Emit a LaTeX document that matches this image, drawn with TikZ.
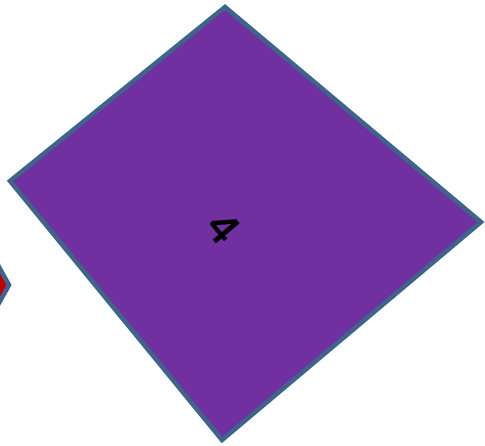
\documentclass[tikz,border=0pt]{standalone}
\usepackage{fontspec}
\newfontfamily\labelfont{Carlito}
\definecolor{edgeblue}{RGB}{62,100,140}
\definecolor{shapepurple}{RGB}{112,48,160}
\definecolor{shapered}{RGB}{192,0,0}
\tikzset{
  shapebox/.style={draw=edgeblue, line width=4.5pt, line join=miter},
  numlabel/.style={font=\labelfont\bfseries\fontsize{48}{48}\selectfont, text=black, inner sep=0pt}
}
\begin{document}
\begin{tikzpicture}[x=1pt,y=-1pt]
\useasboundingbox (0,0) rectangle (485,445);
\clip (0,0) rectangle (485,445);
% partially visible red shape at the left edge
\draw[shapebox, fill=shapered] (-20,233) -- (9,285) -- (-20,337) -- cycle;
% main purple quadrilateral
\coordinate (top) at (225,7);
\coordinate (right) at (481,222);
\coordinate (bottom) at (222,440);
\coordinate (left) at (10,181);
\draw[shapebox, fill=shapepurple] (top) -- (right) -- (bottom) -- (left) -- cycle;
\node[numlabel, rotate=-50] (lbl) at (223,228) {4};
\end{tikzpicture}
\end{document}
